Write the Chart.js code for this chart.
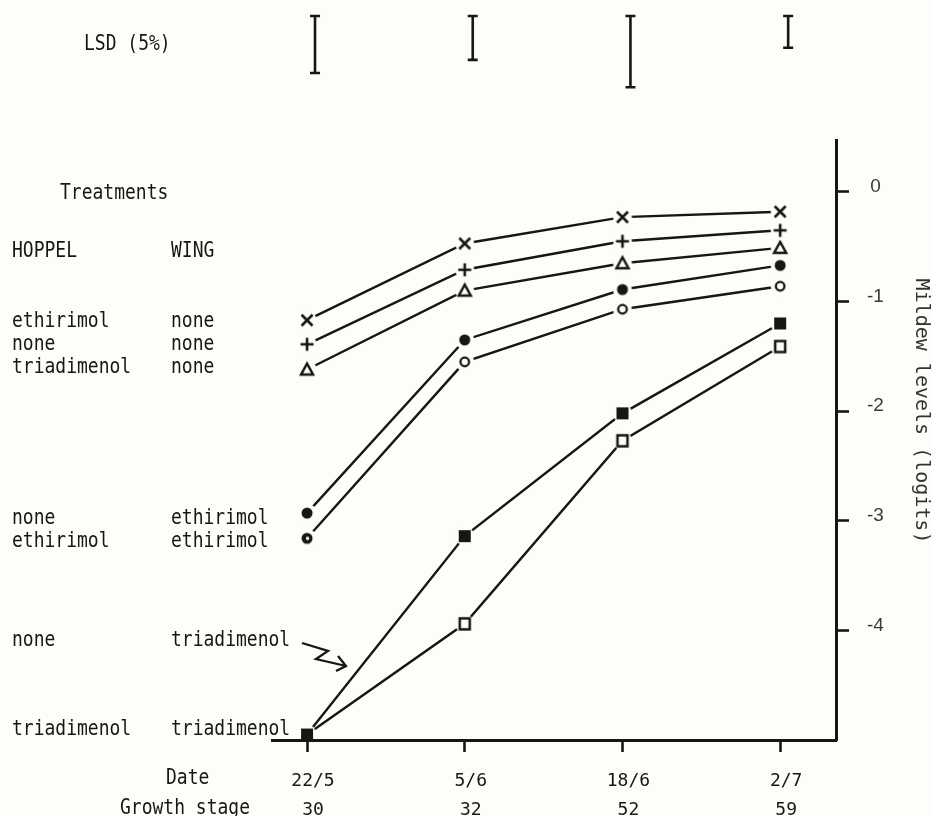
<!DOCTYPE html>
<html>
<head>
<meta charset="utf-8">
<script src="https://cdn.jsdelivr.net/npm/chart.js@4/dist/chart.umd.min.js"></script>
<style>
  html, body { margin: 0; padding: 0; background: #fdfdf9; }
  #wrap { width: 933px; height: 816px; position: relative; }
</style>
</head>
<body>
<div id="wrap"><canvas id="chart"></canvas></div>
<script>
// Dates and growth stages on the x axis
const dates = ['22/5', '5/6', '18/6', '2/7'];
const growthStages = ['30', '32', '52', '59'];

// Treatments (HOPPEL / WING), in the order of the series below
const hoppel = ['ethirimol', 'none', 'triadimenol', 'none', 'ethirimol', 'none', 'triadimenol'];
const wing = ['none', 'none', 'none', 'ethirimol', 'ethirimol', 'triadimenol', 'triadimenol'];

// Mildew levels (logits)
const ethirimolNone = [-1.17, -0.47, -0.23, -0.18];
const noneNone = [-1.39, -0.71, -0.45, -0.35];
const triadimenolNone = [-1.62, -0.90, -0.65, -0.51];
const noneEthirimol = [-2.93, -1.35, -0.89, -0.67];
const ethirimolEthirimol = [-3.16, -1.55, -1.07, -0.86];
const noneTriadimenol = [-4.95, -3.14, -2.02, -1.20];
const triadimenolTriadimenol = [-4.95, -3.94, -2.27, -1.41];

// LSD (5%) bar lengths, in logits, one per date
const lsd = [0.52, 0.40, 0.65, 0.29];

const yTickValues = [0, -1, -2, -3, -4];

const INK = '#161616';
const BG = '#fdfdf9';
const MONO = '"DejaVu Sans Mono", "Liberation Mono", monospace';

// marker with a paper-coloured halo so the lines stop short of it
function makeMarker(shape) {
    const c = document.createElement('canvas');
    c.width = 24; c.height = 24;
    const g = c.getContext('2d');
    g.fillStyle = BG;
    g.beginPath(); g.arc(12, 12, 9.5, 0, Math.PI * 2); g.fill();
    g.strokeStyle = INK; g.fillStyle = INK; g.lineWidth = 2.6; g.lineCap = 'butt';
    if (shape === 'x') {
        g.beginPath(); g.moveTo(6.5, 6.5); g.lineTo(17.5, 17.5); g.moveTo(17.5, 6.5); g.lineTo(6.5, 17.5); g.stroke();
    } else if (shape === '+') {
        g.beginPath(); g.moveTo(12, 5.5); g.lineTo(12, 18.5); g.moveTo(5.5, 12); g.lineTo(18.5, 12); g.stroke();
    } else if (shape === 'tri') {
        g.lineWidth = 2.5;
        g.beginPath(); g.moveTo(12, 6); g.lineTo(18, 17); g.lineTo(6, 17); g.closePath(); g.stroke();
    } else if (shape === 'dot') {
        g.beginPath(); g.arc(12, 12, 5.5, 0, Math.PI * 2); g.fill();
    } else if (shape === 'ring') {
        g.lineWidth = 2.3;
        g.beginPath(); g.arc(12, 12, 4.3, 0, Math.PI * 2); g.stroke();
    } else if (shape === 'half') {
        g.beginPath(); g.arc(12, 12, 5.5, 0, Math.PI * 2); g.fill();
        g.fillStyle = BG; g.beginPath(); g.arc(12.5, 12, 1.7, 0, Math.PI * 2); g.fill();
    } else if (shape === 'sq') {
        g.fillRect(6, 6, 12, 12);
    } else if (shape === 'box') {
        g.lineWidth = 2.5;
        g.strokeRect(7, 6.5, 10, 11);
    }
    return c;
}

const mk = {};
['x', '+', 'tri', 'dot', 'ring', 'half', 'sq', 'box'].forEach(s => mk[s] = makeMarker(s));

function series(values, styles) {
    return {
        data: values.map((v, i) => ({ x: i, y: v })),
        borderColor: INK,
        borderWidth: 2.4,
        pointStyle: styles,
        pointRadius: 6,
        tension: 0,
        fill: false
    };
}

const datasets = [
    series(ethirimolNone, mk['x']),
    series(noneNone, mk['+']),
    series(triadimenolNone, mk['tri']),
    series(noneEthirimol, mk['dot']),
    series(ethirimolEthirimol, [mk['half'], mk['ring'], mk['ring'], mk['ring']]),
    series(triadimenolTriadimenol, [mk['sq'], mk['box'], mk['box'], mk['box']]),
    series(noneTriadimenol, mk['sq'])
];

function drawText(ctx, text, x, y, align) {
    ctx.save();
    ctx.translate(x, y);
    ctx.scale(1, 1.18);
    ctx.textAlign = align || 'left';
    ctx.textBaseline = 'middle';
    ctx.fillText(text, 0, 0);
    ctx.restore();
}

const annotations = {
    id: 'annotations',
    afterDraw(chart) {
        const ctx = chart.ctx;
        const xs = chart.scales.x;
        const ys = chart.scales.y;
        const unit = ys.getPixelForValue(0) - ys.getPixelForValue(1);
        ctx.save();
        ctx.fillStyle = INK;
        ctx.strokeStyle = INK;
        ctx.font = '18px ' + MONO;

        // LSD bars
        drawText(ctx, 'LSD (5%)', 84, 44);
        ctx.lineWidth = 2.6;
        lsd.forEach((v, i) => {
            const x = xs.getPixelForValue(i) + 8;
            const top = 16;
            const bottom = top + v * unit;
            ctx.beginPath();
            ctx.moveTo(x, top); ctx.lineTo(x, bottom);
            ctx.moveTo(x - 5, top); ctx.lineTo(x + 5, top);
            ctx.moveTo(x - 5, bottom); ctx.lineTo(x + 5, bottom);
            ctx.stroke();
        });

        // treatments table
        drawText(ctx, 'Treatments', 60, 193);
        drawText(ctx, 'HOPPEL', 12, 251);
        drawText(ctx, 'WING', 171, 251);
        const rows = [321, 344, 367, 518, 541, 640, 729];
        hoppel.forEach((h, i) => {
            drawText(ctx, h, 12, rows[i]);
            drawText(ctx, wing[i], 171, rows[i]);
        });

        // x axis row titles
        drawText(ctx, 'Date', 166, 778);
        drawText(ctx, 'Growth stage', 120, 808);

        // zig-zag arrow to the none/triadimenol line
        ctx.lineWidth = 2.3;
        ctx.lineJoin = 'miter';
        ctx.beginPath();
        ctx.moveTo(302, 643); ctx.lineTo(328, 651); ctx.lineTo(316, 659); ctx.lineTo(346, 666);
        ctx.moveTo(338, 656); ctx.lineTo(346, 666); ctx.lineTo(336, 671);
        ctx.stroke();

        // y axis title, reading downwards
        ctx.translate(921, 411);
        ctx.rotate(Math.PI / 2);
        ctx.font = '20px ' + MONO;
        ctx.fillStyle = '#333';
        ctx.textAlign = 'center';
        ctx.textBaseline = 'middle';
        ctx.fillText('Mildew levels (logits)', 0, 0);
        ctx.restore();
    }
};

const config = {
    type: 'line',
    data: { datasets: datasets },
    options: {
        responsive: true,
        maintainAspectRatio: false,
        animation: false,
        layout: { padding: { left: 272, top: 140, right: 0, bottom: 0 } },
        plugins: {
            legend: { display: false },
            tooltip: { enabled: false }
        },
        scales: {
            x: {
                type: 'linear',
                min: -0.222,
                max: 3.354,
                afterBuildTicks: scale => { scale.ticks = dates.map((d, i) => ({ value: i })); },
                afterFit: scale => { scale.height = 76; },
                grid: { drawOnChartArea: false, drawTicks: true, tickLength: 12, tickColor: INK, tickWidth: 2.6 },
                border: { display: true, color: INK, width: 3, z: 1 },
                ticks: {
                    callback: v => [dates[v], growthStages[v]],
                    color: INK,
                    font: { family: MONO, size: 18, lineHeight: 1.65 },
                    padding: 14,
                    labelOffset: 6,
                    maxRotation: 0,
                    autoSkip: false
                }
            },
            y: {
                position: 'right',
                min: -5,
                max: 0.474,
                afterBuildTicks: scale => { scale.ticks = yTickValues.map(v => ({ value: v })); },
                afterFit: scale => { scale.width = 97; },
                grid: { drawOnChartArea: false, drawTicks: true, tickLength: 13, tickColor: INK, tickWidth: 2.6 },
                border: { display: true, color: INK, width: 3, z: 1 },
                ticks: {
                    callback: v => String(v),
                    color: '#3a3a3a',
                    font: { family: '"Liberation Sans", Arial, sans-serif', size: 19 },
                    padding: 18,
                    labelOffset: -5,
                    crossAlign: 'center'
                }
            }
        }
    },
    plugins: [annotations]
};

const ctx = document.getElementById('chart');
const mildewChart = new Chart(ctx, config);
</script>
</body>
</html>
